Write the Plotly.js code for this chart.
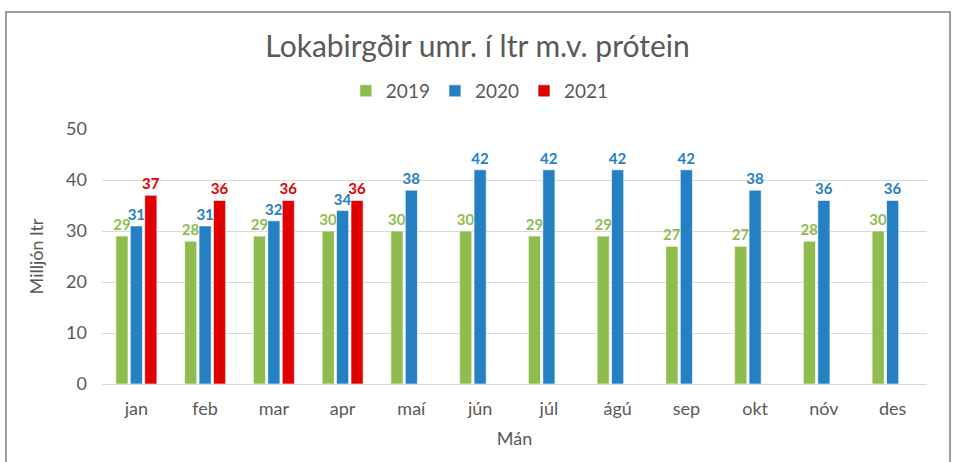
<!DOCTYPE html>
<html><head><meta charset="utf-8">
<script src="https://cdn.plot.ly/plotly-3.0.1.min.js"></script>
<style>html,body{margin:0;padding:0;background:#fff}#c{width:955px;height:462px}</style>
</head><body><div id="c"></div>
<script>
const months = ['jan','feb','mar','apr','maí','jún','júl','ágú','sep','okt','nóv','des'];
const v2019 = [29,28,29,30,30,30,29,29,27,27,28,30];
const v2020 = [31,31,32,34,38,42,42,42,42,38,36,36];
const v2021 = [37,36,36,36,null,null,null,null,null,null,null,null];
const seriesNames = ['2019','2020','2021'];
const colors = ['#8FBC4F','#2580C3','#E00000'];
const FONT = 'Lato, "Open Sans", sans-serif';
const traces = [v2019,v2020,v2021].map((v,i)=>({
  type:'bar', name:seriesNames[i], x:months, y:v,
  marker:{color:colors[i], line:{color:'rgba(255,255,255,0.6)', width:1}},
  text:v.map(d=>d==null?'':String(d)), textposition:'outside', cliponaxis:false, constraintext:'none',
  textfont:{family:FONT, size:15, color:colors[i], weight:'bold'},
  hoverinfo:'x+y'
}));
const layout = {
  width:955, height:462,
  margin:{l:102, r:28, t:129, b:78},
  paper_bgcolor:'#fff', plot_bgcolor:'#fff',
  barmode:'group', bargap:0.37, bargroupgap:0.16,
  title:{text:'Lokabirgðir umr. í ltr m.v. prótein', x:0.5, xanchor:'center', y:0.9, yanchor:'middle', yref:'container',
    font:{family:FONT, size:30, color:'#595959'}},
  legend:{orientation:'h', x:0.458, xanchor:'center', y:1.149, yanchor:'middle', font:{family:FONT, size:19, color:'#595959'}, itemwidth:30, traceorder:'normal'},
  xaxis:{type:'category', tickfont:{family:FONT, size:18, color:'#595959'}, ticks:'', ticklabelstandoff:8, showline:true, linecolor:'#d9d9d9', linewidth:1,
    title:{text:'Mán', font:{family:FONT, size:18, color:'#595959'}, standoff:14}},
  yaxis:{range:[0,50], dtick:10, tickfont:{family:FONT, size:18, color:'#595959'}, gridcolor:'#d9d9d9', gridwidth:1, zeroline:false, ticks:'', ticklabelstandoff:14,
    title:{text:'Milljón ltr', font:{family:FONT, size:18, color:'#595959'}, standoff:17}},
  shapes:[{type:'rect', xref:'paper', yref:'paper', x0:-0.1164, x1:1.0279, y0:-0.6, y1:1.459, line:{color:'#808080', width:1.5}, fillcolor:'rgba(0,0,0,0)', layer:'below'}],
  showlegend:true
};
Plotly.newPlot('c', traces, layout, {displayModeBar:false, staticPlot:true});
</script></body></html>
